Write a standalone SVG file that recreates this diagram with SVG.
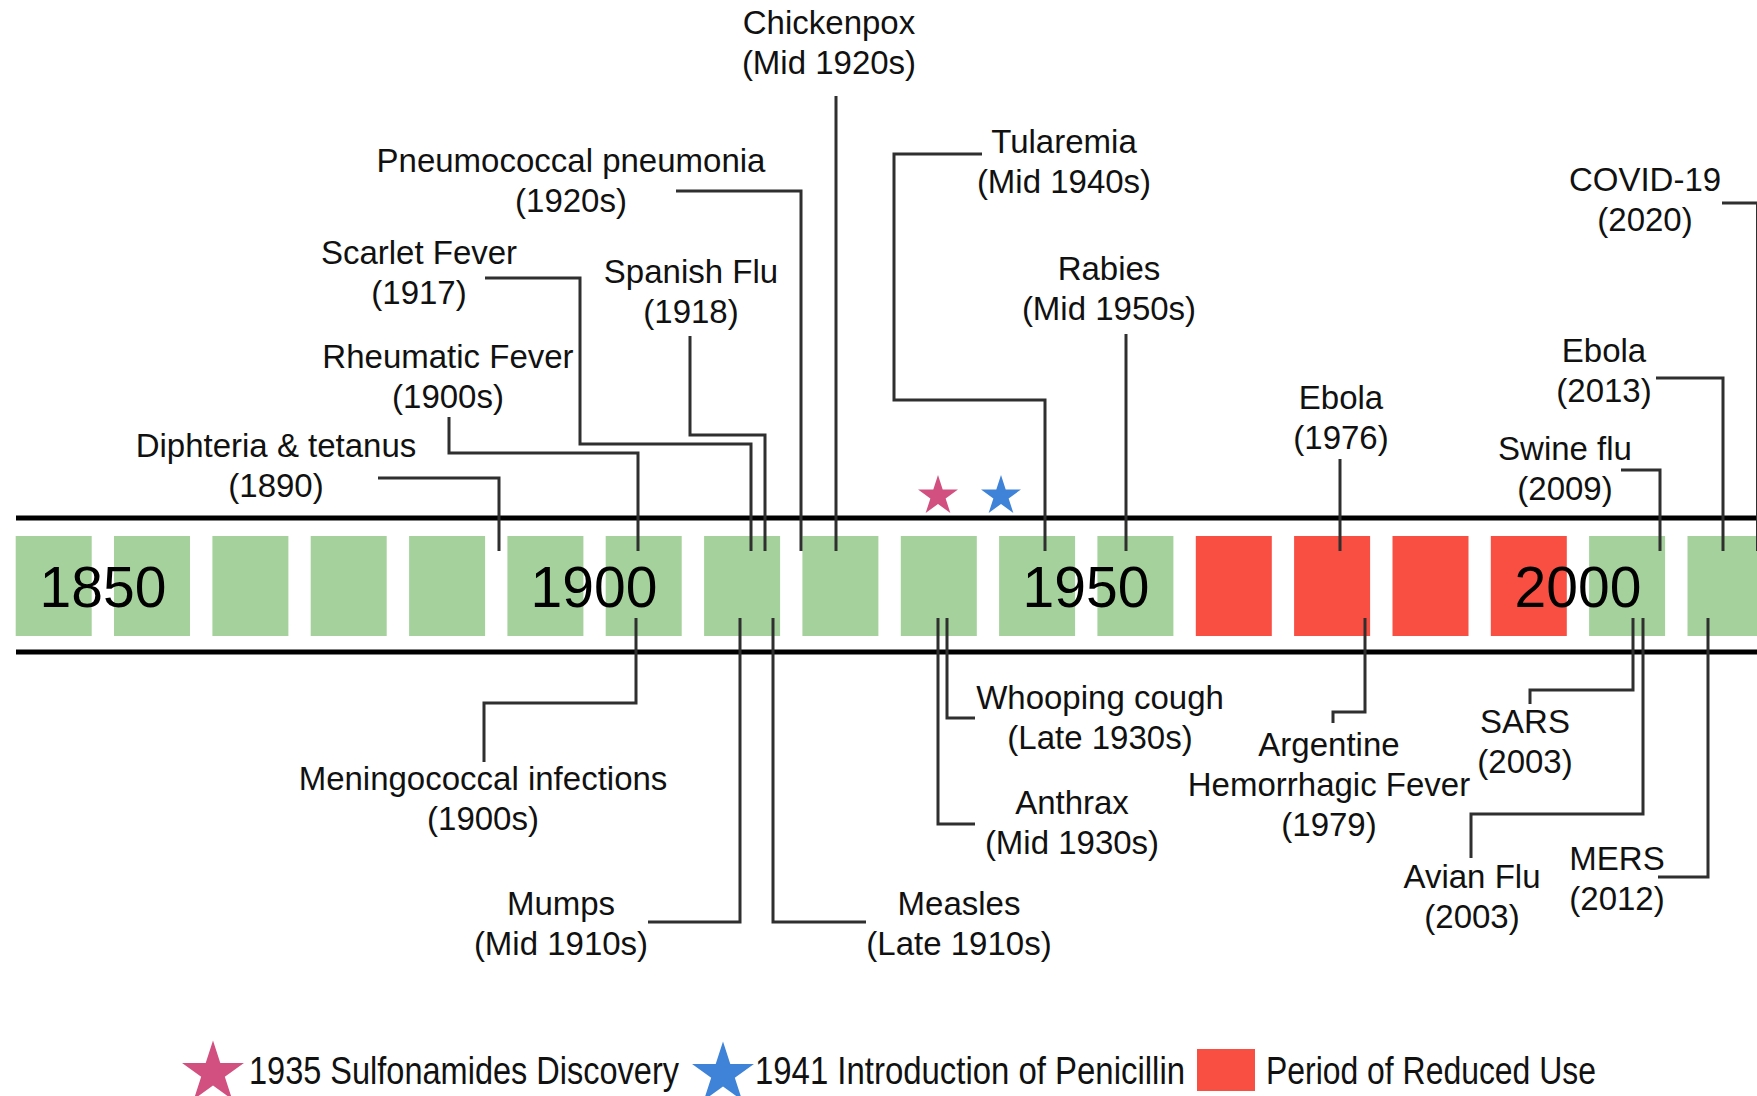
<svg xmlns="http://www.w3.org/2000/svg" xmlns:xlink="http://www.w3.org/1999/xlink" width="1757" height="1096" viewBox="0 0 1757 1096">
<defs>
<style>
.lbl{font-family:"Liberation Sans",Arial,sans-serif;font-size:33px;fill:#111;text-anchor:middle}
.yr{font-family:"Liberation Sans",Arial,sans-serif;font-size:57px;fill:#000;text-anchor:middle}
.leg{font-family:"Liberation Sans",Arial,sans-serif;font-size:38px;fill:#111}
.conn{fill:none;stroke:#2f2f2f;stroke-width:3}
.axis{stroke:#000;stroke-width:5}
.g{fill:#A5D29C}
.r{fill:#F94F42}
</style>
<path id="star" d="M0,-21 L4.71,-6.49 L19.97,-6.49 L7.63,2.48 L12.34,16.99 L0,8.02 L-12.34,16.99 L-7.63,2.48 L-19.97,-6.49 L-4.71,-6.49 Z"/>
</defs>
<rect width="1757" height="1096" fill="#fff"/>
<g id="timeline">
<line class="axis" x1="16" y1="518" x2="1757" y2="518"/>
<line class="axis" x1="16" y1="652" x2="1757" y2="652"/>
<rect class="g" x="15.7" y="536" width="76" height="100"/>
<rect class="g" x="114.0" y="536" width="76" height="100"/>
<rect class="g" x="212.4" y="536" width="76" height="100"/>
<rect class="g" x="310.7" y="536" width="76" height="100"/>
<rect class="g" x="409.1" y="536" width="76" height="100"/>
<rect class="g" x="507.4" y="536" width="76" height="100"/>
<rect class="g" x="605.7" y="536" width="76" height="100"/>
<rect class="g" x="704.1" y="536" width="76" height="100"/>
<rect class="g" x="802.4" y="536" width="76" height="100"/>
<rect class="g" x="900.8" y="536" width="76" height="100"/>
<rect class="g" x="999.1" y="536" width="76" height="100"/>
<rect class="g" x="1097.4" y="536" width="76" height="100"/>
<rect class="r" x="1195.8" y="536" width="76" height="100"/>
<rect class="r" x="1294.1" y="536" width="76" height="100"/>
<rect class="r" x="1392.5" y="536" width="76" height="100"/>
<rect class="r" x="1490.8" y="536" width="76" height="100"/>
<rect class="g" x="1589.1" y="536" width="76" height="100"/>
<rect class="g" x="1687.5" y="536" width="76" height="100"/>
<text class="yr" x="103" y="607">1850</text>
<text class="yr" x="594" y="607">1900</text>
<text class="yr" x="1086" y="607">1950</text>
<text class="yr" x="1578" y="607">2000</text>
<use xlink:href="#star" x="938" y="496" fill="#D2507F"/>
<use xlink:href="#star" x="1001" y="496" fill="#3E83D8"/>
</g>
<g id="connectors">
<path class="conn" d="M378 478 H499 V551"/>
<path class="conn" d="M449 417 V453 H638 V551"/>
<path class="conn" d="M485 278 H580 V444 H751 V551"/>
<path class="conn" d="M690 336 V435 H765 V551"/>
<path class="conn" d="M676 191 H801 V551"/>
<path class="conn" d="M836 96 V551"/>
<path class="conn" d="M982 154 H894 V400 H1045 V551"/>
<path class="conn" d="M1126 334 V551"/>
<path class="conn" d="M1340 459 V551"/>
<path class="conn" d="M1621 470 H1660 V551"/>
<path class="conn" d="M1656 378 H1723 V551"/>
<path class="conn" d="M1722 203 H1757.5 V551"/>
<path class="conn" d="M636 618 V703 H484 V762"/>
<path class="conn" d="M740 618 V922 H648"/>
<path class="conn" d="M773 618 V922 H866"/>
<path class="conn" d="M938 618 V824 H975"/>
<path class="conn" d="M947 618 V718 H975"/>
<path class="conn" d="M1365 618 V712 H1333 V723"/>
<path class="conn" d="M1633 618 V690 H1530 V704"/>
<path class="conn" d="M1643 618 V814 H1471 V858"/>
<path class="conn" d="M1708 618 V877 H1658"/>
</g>
<g id="chickenpox"><text class="lbl" x="829" y="34">Chickenpox</text><text class="lbl" x="829" y="74">(Mid 1920s)</text></g>
<g id="pneumococcal"><text class="lbl" x="571" y="172">Pneumococcal pneumonia</text><text class="lbl" x="571" y="212">(1920s)</text></g>
<g id="tularemia"><text class="lbl" x="1064" y="153">Tularemia</text><text class="lbl" x="1064" y="193">(Mid 1940s)</text></g>
<g id="covid"><text class="lbl" x="1645" y="191">COVID-19</text><text class="lbl" x="1645" y="231">(2020)</text></g>
<g id="scarlet"><text class="lbl" x="419" y="264">Scarlet Fever</text><text class="lbl" x="419" y="304">(1917)</text></g>
<g id="spanish"><text class="lbl" x="691" y="283">Spanish Flu</text><text class="lbl" x="691" y="323">(1918)</text></g>
<g id="rabies"><text class="lbl" x="1109" y="280">Rabies</text><text class="lbl" x="1109" y="320">(Mid 1950s)</text></g>
<g id="rheumatic"><text class="lbl" x="448" y="368">Rheumatic Fever</text><text class="lbl" x="448" y="408">(1900s)</text></g>
<g id="ebola2013"><text class="lbl" x="1604" y="362">Ebola</text><text class="lbl" x="1604" y="402">(2013)</text></g>
<g id="ebola1976"><text class="lbl" x="1341" y="409">Ebola</text><text class="lbl" x="1341" y="449">(1976)</text></g>
<g id="diphteria"><text class="lbl" x="276" y="457">Diphteria &amp; tetanus</text><text class="lbl" x="276" y="497">(1890)</text></g>
<g id="swineflu"><text class="lbl" x="1565" y="460">Swine flu</text><text class="lbl" x="1565" y="500">(2009)</text></g>
<g id="meningococcal"><text class="lbl" x="483" y="790">Meningococcal infections</text><text class="lbl" x="483" y="830">(1900s)</text></g>
<g id="whooping"><text class="lbl" x="1100" y="709">Whooping cough</text><text class="lbl" x="1100" y="749">(Late 1930s)</text></g>
<g id="anthrax"><text class="lbl" x="1072" y="814">Anthrax</text><text class="lbl" x="1072" y="854">(Mid 1930s)</text></g>
<g id="mumps"><text class="lbl" x="561" y="915">Mumps</text><text class="lbl" x="561" y="955">(Mid 1910s)</text></g>
<g id="measles"><text class="lbl" x="959" y="915">Measles</text><text class="lbl" x="959" y="955">(Late 1910s)</text></g>
<g id="argentine"><text class="lbl" x="1329" y="756">Argentine</text><text class="lbl" x="1329" y="796">Hemorrhagic Fever</text><text class="lbl" x="1329" y="836">(1979)</text></g>
<g id="sars"><text class="lbl" x="1525" y="733">SARS</text><text class="lbl" x="1525" y="773">(2003)</text></g>
<g id="avianflu"><text class="lbl" x="1472" y="888">Avian Flu</text><text class="lbl" x="1472" y="928">(2003)</text></g>
<g id="mers"><text class="lbl" x="1617" y="870">MERS</text><text class="lbl" x="1617" y="910">(2012)</text></g>
<g id="legend">
<use xlink:href="#star" transform="translate(213 1073) scale(1.55)" fill="#D2507F"/>
<text class="leg" x="249" y="1084" textLength="430" lengthAdjust="spacingAndGlyphs">1935 Sulfonamides Discovery</text>
<use xlink:href="#star" transform="translate(723 1074) scale(1.55)" fill="#3E83D8"/>
<text class="leg" x="755" y="1084" textLength="430" lengthAdjust="spacingAndGlyphs">1941 Introduction of Penicillin</text>
<rect class="r" x="1197" y="1049" width="58" height="42"/>
<text class="leg" x="1266" y="1084" textLength="330" lengthAdjust="spacingAndGlyphs">Period of Reduced Use</text>
</g>
</svg>
